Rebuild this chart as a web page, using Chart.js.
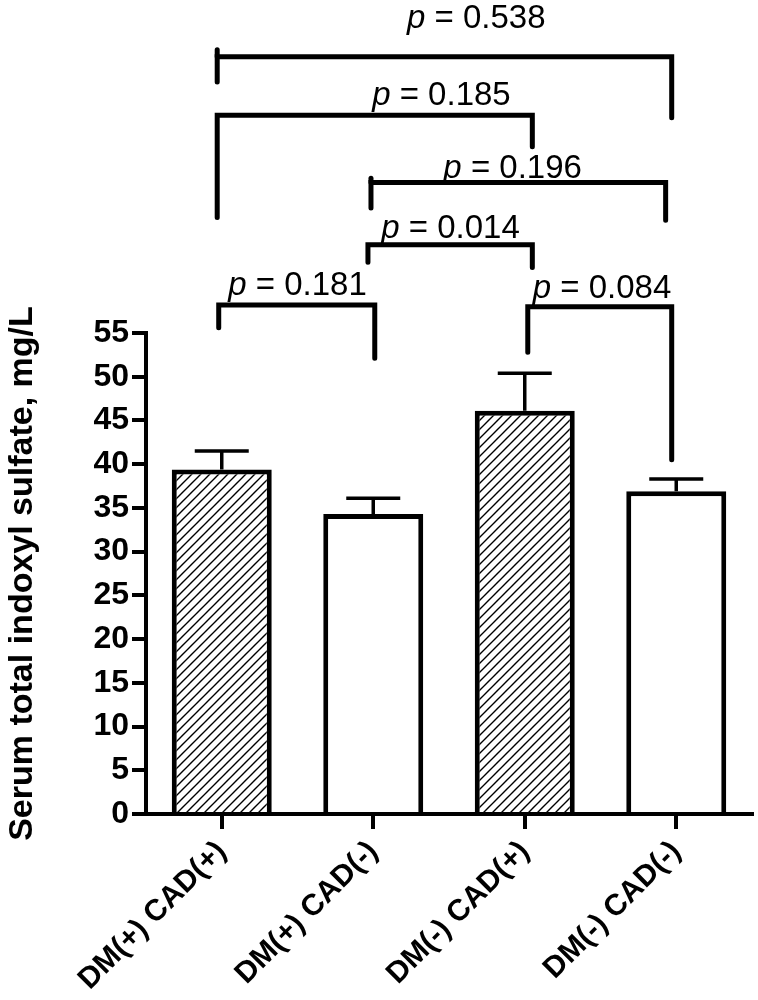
<!DOCTYPE html>
<html>
<head>
<meta charset="utf-8">
<script src="https://cdn.jsdelivr.net/npm/chart.js@4/dist/chart.umd.min.js"></script>
<style>
  body { margin: 0; background: #fff; }
  canvas { display: block; }
</style>
</head>
<body>
<canvas id="chart" width="758" height="1000"></canvas>
<script>
// groups and values
const groups = ['DM(+) CAD(+)', 'DM(+) CAD(-)', 'DM(-) CAD(+)', 'DM(-) CAD(-)'];
const means = [39.4, 34.3, 46.1, 36.9];
const sem = [2.1, 1.8, 4.3, 1.4];
const hatched = [true, false, true, false];

// comparison brackets (group positions, levels in mg/L units)
const pValues = ['0.538', '0.185', '0.196', '0.014', '0.181', '0.084'];
const bracketFrom = [-0.03, -0.03, 0.985, 0.965, -0.02, 2.02];
const bracketTo = [2.97, 2.05, 2.93, 2.05, 1.01, 2.97];
const bracketLevel = [86.6, 79.9, 72.2, 65.1, 58.2, 58.0];
const leftLegTop = [87.4, 79.9, 72.7, 65.1, 58.2, 58.0];
const leftLegEnd = [83.7, 68.2, 69.3, 63.1, 55.6, 52.8];
const rightLegEnd = [79.6, 76.3, 67.9, 62.5, 52.1, 40.5];
const labelAt = [1.68, 1.45, 1.92, 1.51, 0.50, 2.51];
const labelBase = [89.9, 81.1, 72.7, 65.9, 59.3, 59.0];

const yTicks = [0, 5, 10, 15, 20, 25, 30, 35, 40, 45, 50, 55];

Chart.defaults.font.family = '"Liberation Sans", Arial, sans-serif';
Chart.defaults.color = '#000';

function makeHatch() {
    const c = document.createElement('canvas');
    c.width = 9;
    c.height = 9;
    const g = c.getContext('2d');
    g.fillStyle = '#fff';
    g.fillRect(0, 0, 9, 9);
    g.strokeStyle = '#000';
    g.lineWidth = 1.4;
    g.beginPath();
    g.moveTo(-1, 10); g.lineTo(10, -1);
    g.moveTo(-1, 1); g.lineTo(1, -1);
    g.moveTo(8, 10); g.lineTo(10, 8);
    g.stroke();
    return g.createPattern(c, 'repeat');
}
const hatch = makeHatch();

const annotations = {
    id: 'annotations',
    afterDatasetsDraw(chart) {
        const ctx = chart.ctx;
        const x = chart.scales.x;
        const y = chart.scales.y;
        ctx.save();
        ctx.strokeStyle = '#000';

        // error bars (upper only)
        ctx.lineWidth = 3.5;
        ctx.lineCap = 'butt';
        means.forEach((m, i) => {
            const px = x.getPixelForValue(i);
            const top = y.getPixelForValue(m + sem[i]);
            ctx.beginPath();
            ctx.moveTo(px, y.getPixelForValue(m));
            ctx.lineTo(px, top);
            ctx.moveTo(px - 27, top);
            ctx.lineTo(px + 27, top);
            ctx.stroke();
        });

        // brackets
        ctx.lineWidth = 5;
        ctx.lineCap = 'round';
        ctx.lineJoin = 'miter';
        pValues.forEach((p, i) => {
            const x1 = x.getPixelForValue(bracketFrom[i]);
            const x2 = x.getPixelForValue(bracketTo[i]);
            const yl = y.getPixelForValue(bracketLevel[i]);
            ctx.beginPath();
            ctx.moveTo(x1, y.getPixelForValue(leftLegEnd[i]));
            ctx.lineTo(x1, yl);
            ctx.lineTo(x2, yl);
            ctx.lineTo(x2, y.getPixelForValue(rightLegEnd[i]));
            ctx.stroke();
            if (leftLegTop[i] > bracketLevel[i]) {
                ctx.beginPath();
                ctx.moveTo(x1, y.getPixelForValue(leftLegTop[i]));
                ctx.lineTo(x1, yl);
                ctx.stroke();
            }

            // label: italic p + " = value"
            const rest = ' = ' + p;
            ctx.font = 'italic 33px "Liberation Sans", Arial, sans-serif';
            const wp = ctx.measureText('p').width;
            ctx.font = '33px "Liberation Sans", Arial, sans-serif';
            const wr = ctx.measureText(rest).width;
            const cx = x.getPixelForValue(labelAt[i]);
            const by = y.getPixelForValue(labelBase[i]);
            const start = cx - (wp + wr) / 2;
            ctx.fillStyle = '#000';
            ctx.textAlign = 'left';
            ctx.textBaseline = 'alphabetic';
            ctx.font = 'italic 33px "Liberation Sans", Arial, sans-serif';
            ctx.fillText('p', start, by);
            ctx.font = '33px "Liberation Sans", Arial, sans-serif';
            ctx.fillText(rest, start + wp, by);
        });
        ctx.restore();
    }
};

new Chart(document.getElementById('chart'), {
    type: 'bar',
    data: {
        labels: groups,
        datasets: [{
            data: means,
            backgroundColor: hatched.map(h => h ? hatch : '#fff'),
            borderColor: '#000',
            borderWidth: 5,
            categoryPercentage: 1,
            barPercentage: 0.66
        }]
    },
    options: {
        responsive: false,
        animation: false,
        devicePixelRatio: 1,
        layout: { padding: { top: 333, right: 6, left: 0, bottom: 0 } },
        plugins: {
            legend: { display: false },
            tooltip: { enabled: false }
        },
        scales: {
            y: {
                min: 0,
                max: 55,
                afterBuildTicks: scale => {
                    scale.ticks = yTicks.map(v => ({ value: v }));
                },
                afterFit: scale => { scale.width = 146; },
                border: { color: '#000', width: 4 },
                grid: {
                    drawOnChartArea: false,
                    tickLength: 14,
                    lineWidth: 4,
                    color: '#000'
                },
                ticks: {
                    color: '#000',
                    padding: 3,
                    font: { size: 32, weight: 'bold' }
                },
                title: {
                    display: true,
                    text: 'Serum total indoxyl sulfate, mg/L',
                    color: '#000',
                    padding: { top: 2, bottom: 0 },
                    font: { size: 34, weight: 'bold' }
                }
            },
            x: {
                afterFit: scale => { scale.height = 186; },
                border: { color: '#000', width: 4 },
                grid: {
                    offset: false,
                    drawOnChartArea: false,
                    tickLength: 15,
                    lineWidth: 4,
                    color: '#000'
                },
                ticks: {
                    color: '#000',
                    minRotation: 45,
                    maxRotation: 45,
                    padding: 5,
                    font: { size: 30, weight: 'bold' }
                }
            }
        }
    },
    plugins: [annotations]
});
</script>
</body>
</html>
